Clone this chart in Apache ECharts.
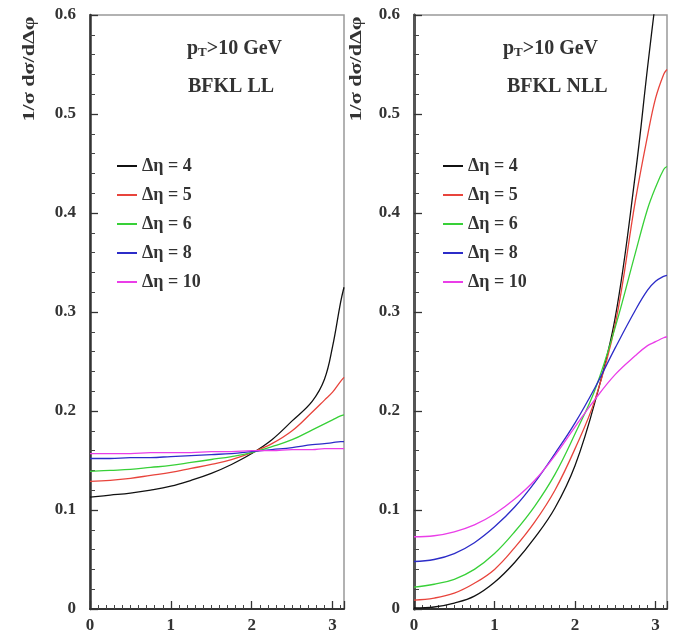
<!DOCTYPE html>
<html>
<head>
<meta charset="utf-8">
<script src="https://cdn.jsdelivr.net/npm/echarts@6/dist/echarts.min.js"></script>
<style>
  html, body { margin: 0; padding: 0; background: #fff; }
  #chart { width: 676px; height: 634px; }
</style>
</head>
<body>
<div id="chart"></div>
<script>
// --- data ---
const PHI = [0, 0.25, 0.5, 0.75, 1, 1.25, 1.5, 1.75, 2, 2.25, 2.5, 2.75, 2.9, 3, 3.1, 3.1416];
const LABELS = ['Δη = 4', 'Δη = 5', 'Δη = 6', 'Δη = 8', 'Δη = 10'];
const COLORS = ['#111111', '#e8443c', '#38d038', '#2c2cc8', '#ea3ee8'];

// BFKL LL
const LL_4  = [0.113, 0.115, 0.117, 0.120, 0.124, 0.130, 0.137, 0.146, 0.157, 0.171, 0.190, 0.210, 0.232, 0.265, 0.310, 0.325];
const LL_5  = [0.129, 0.130, 0.132, 0.135, 0.138, 0.142, 0.146, 0.151, 0.158, 0.167, 0.180, 0.199, 0.211, 0.219, 0.230, 0.234];
const LL_6  = [0.139, 0.140, 0.141, 0.143, 0.145, 0.148, 0.151, 0.154, 0.158, 0.164, 0.171, 0.181, 0.187, 0.191, 0.195, 0.196];
const LL_8  = [0.152, 0.152, 0.153, 0.153, 0.154, 0.155, 0.156, 0.157, 0.159, 0.161, 0.163, 0.166, 0.167, 0.168, 0.169, 0.169];
const LL_10 = [0.157, 0.157, 0.157, 0.158, 0.158, 0.158, 0.159, 0.159, 0.160, 0.160, 0.161, 0.161, 0.162, 0.162, 0.162, 0.162];

// BFKL NLL
const NLL_4  = [0.001, 0.002, 0.006, 0.013, 0.027, 0.047, 0.072, 0.102, 0.145, 0.210, 0.295, 0.440, 0.547, 0.615, 0.680, 0.710];
const NLL_5  = [0.009, 0.011, 0.016, 0.026, 0.040, 0.062, 0.088, 0.120, 0.162, 0.212, 0.288, 0.413, 0.478, 0.516, 0.540, 0.545];
const NLL_6  = [0.022, 0.025, 0.030, 0.040, 0.056, 0.078, 0.104, 0.136, 0.177, 0.222, 0.285, 0.360, 0.404, 0.426, 0.444, 0.447];
const NLL_8  = [0.048, 0.050, 0.056, 0.067, 0.083, 0.103, 0.128, 0.157, 0.188, 0.224, 0.264, 0.302, 0.322, 0.331, 0.336, 0.337];
const NLL_10 = [0.073, 0.074, 0.078, 0.085, 0.096, 0.111, 0.130, 0.155, 0.184, 0.212, 0.237, 0.256, 0.266, 0.270, 0.274, 0.275];

const Y_TICKS = [0, 0.1, 0.2, 0.3, 0.4, 0.5, 0.6];
const X_TICKS = [0, 1, 2, 3];

const PANELS = [
  { tag: 'BFKL LL', series: [LL_4, LL_5, LL_6, LL_8, LL_10] },
  { tag: 'BFKL NLL', series: [NLL_4, NLL_5, NLL_6, NLL_8, NLL_10] }
];

const SERIF = '"Liberation Serif", "Times New Roman", serif';
const chart = echarts.init(document.getElementById('chart'));

const xAxisFor = (gridIndex) => ({
  type: 'value',
  gridIndex,
  min: X_TICKS[0],
  max: 3.1416,
  interval: 1,
  axisLine: { show: true, onZero: false, lineStyle: { color: '#333', width: 2 } },
  axisTick: { inside: true, length: 8, lineStyle: { color: '#333', width: 1.3 } },
  minorTick: { show: true, splitNumber: 10, length: 4, lineStyle: { color: '#444', width: 1 } },
  splitLine: { show: false },
  axisLabel: {
    showMaxLabel: false,
    margin: 8,
    fontFamily: SERIF, fontWeight: 'bold', fontSize: 17, color: '#333'
  }
});

const yAxisFor = (gridIndex) => ({
  type: 'value',
  gridIndex,
  min: Y_TICKS[0],
  max: Y_TICKS[Y_TICKS.length - 1],
  interval: 0.1,
  axisLine: { show: true, onZero: false, lineStyle: { color: '#333', width: 2.5 } },
  axisTick: { inside: true, length: 8, lineStyle: { color: '#333', width: 1.3 } },
  minorTick: { show: true, splitNumber: 5, length: 5, lineStyle: { color: '#444', width: 1 } },
  splitLine: { show: false },
  axisLabel: {
    margin: 14,
    fontFamily: SERIF, fontWeight: 'bold', fontSize: 17, color: '#333'
  }
});

const series = [];
PANELS.forEach((panel, p) => {
  panel.series.forEach((vals, i) => {
    series.push({
      type: 'line',
      name: LABELS[i],
      xAxisIndex: p,
      yAxisIndex: p,
      data: PHI.map((x, k) => [x, vals[k]]),
      showSymbol: false,
      smooth: 0.4,
      clip: true,
      lineStyle: { color: COLORS[i], width: 1.3 },
      itemStyle: { color: COLORS[i] }
    });
  });
});

const legendFor = (left) => ({
  left,
  top: 152,
  orient: 'vertical',
  icon: 'rect',
  itemWidth: 20,
  itemHeight: 2,
  itemGap: 11,
  selectedMode: false,
  data: LABELS,
  textStyle: { fontFamily: SERIF, fontWeight: 'bold', fontSize: 18, lineHeight: 18, color: '#333' }
});

// p_T with a lowered subscript
const ptText = (left, top) => ({
  type: 'text',
  left, top,
  style: {
    text: '{n|p}{s|T}{n|>10 GeV}',
    fill: '#333',
    rich: {
      n: { fontFamily: SERIF, fontWeight: 'bold', fontSize: 20, lineHeight: 20, verticalAlign: 'top', fill: '#333' },
      s: { fontFamily: SERIF, fontWeight: 'bold', fontSize: 13, lineHeight: 13, verticalAlign: 'bottom', fill: '#333', padding: [8, 0, 0, 0] }
    }
  }
});

const tagText = (left, top, text) => ({
  type: 'text',
  left, top,
  style: { text, fill: '#333', font: 'bold 20px ' + SERIF }
});

const yTitle = (x) => ({
  type: 'text',
  x, y: 69,
  rotation: Math.PI / 2,
  scaleX: 1.3,
  style: {
    text: '1/σ dσ/dΔφ',
    fill: '#333',
    font: 'bold 17px ' + SERIF,
    align: 'center',
    verticalAlign: 'middle'
  }
});

const option = {
  backgroundColor: '#fff',
  animation: false,
  grid: [
    { left: 90, top: 15, width: 254, height: 594, show: true, borderColor: '#999', borderWidth: 1.5 },
    { left: 414, top: 15, width: 253, height: 594, show: true, borderColor: '#999', borderWidth: 1.5 }
  ],
  xAxis: [xAxisFor(0), xAxisFor(1)],
  yAxis: [
    yAxisFor(0),
    yAxisFor(1),
    // heavier right frame on the NLL panel
    {
      type: 'value', gridIndex: 1, position: 'right', min: 0, max: 0.6,
      axisLine: { show: true, lineStyle: { color: '#555', width: 3 } },
      axisTick: { show: false }, axisLabel: { show: false }, splitLine: { show: false }
    }
  ],
  legend: [legendFor(112), legendFor(438)],
  graphic: [
    yTitle(30),
    yTitle(357),
    ptText(187, 38),
    tagText(188, 77, PANELS[0].tag),
    ptText(503, 38),
    tagText(507, 77, PANELS[1].tag)
  ],
  series
};

chart.setOption(option);
</script>
</body>
</html>
